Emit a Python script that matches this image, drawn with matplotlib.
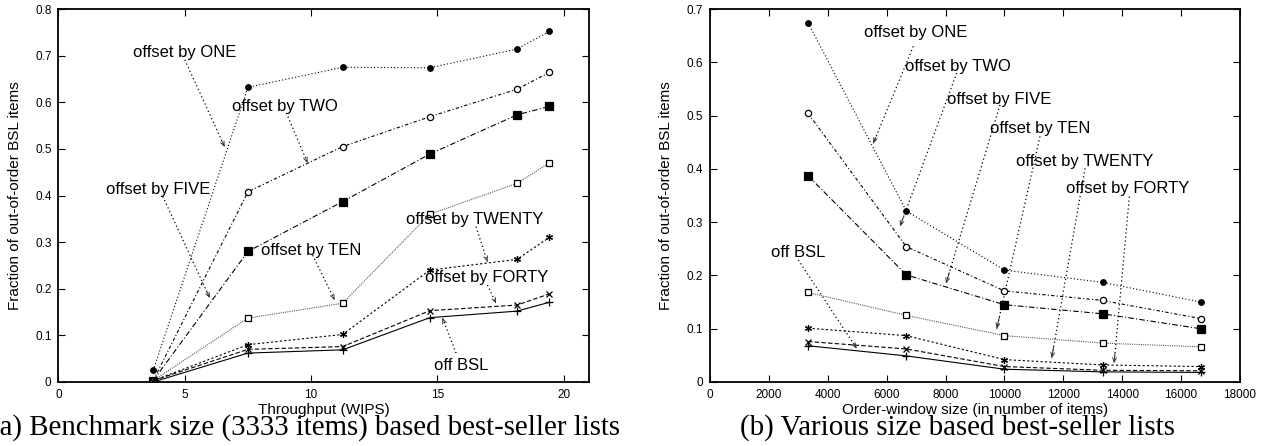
import matplotlib
matplotlib.use('Agg')
import matplotlib.pyplot as plt

plt.rcParams.update({
    'font.family': ['Liberation Sans', 'DejaVu Sans'],
    'font.size': 9,
    'xtick.labelsize': 8.5,
    'ytick.labelsize': 8.5,
    'xtick.direction': 'in',
    'ytick.direction': 'in',
    'xtick.top': True,
    'ytick.right': True,
    'xtick.major.size': 5,
    'ytick.major.size': 5,
    'axes.linewidth': 1.3,
})

series_names = ['offset by ONE', 'offset by TWO', 'offset by FIVE', 'offset by TEN',
                'offset by TWENTY', 'offset by FORTY', 'off BSL']

# (a) benchmark size lists, fraction vs throughput
throughput = [3.75, 7.5, 11.25, 14.7, 18.15, 19.43]
frac_a = {
    'offset by ONE':    [0.025, 0.632, 0.675, 0.674, 0.714, 0.752],
    'offset by TWO':    [0.003, 0.408, 0.505, 0.569, 0.628, 0.664],
    'offset by FIVE':   [0.003, 0.280, 0.387, 0.489, 0.573, 0.591],
    'offset by TEN':    [0.003, 0.137, 0.169, 0.360, 0.426, 0.470],
    'offset by TWENTY': [0.003, 0.080, 0.102, 0.240, 0.263, 0.310],
    'offset by FORTY':  [0.003, 0.070, 0.076, 0.153, 0.165, 0.189],
    'off BSL':          [0.000, 0.062, 0.069, 0.138, 0.152, 0.171],
}

# (b) various size lists, fraction vs order-window size
window = [3333, 6667, 10000, 13333, 16667]
frac_b = {
    'offset by ONE':    [0.674, 0.321, 0.210, 0.187, 0.150],
    'offset by TWO':    [0.504, 0.254, 0.171, 0.153, 0.119],
    'offset by FIVE':   [0.387, 0.201, 0.145, 0.128, 0.100],
    'offset by TEN':    [0.168, 0.125, 0.087, 0.073, 0.066],
    'offset by TWENTY': [0.101, 0.087, 0.042, 0.032, 0.029],
    'offset by FORTY':  [0.076, 0.062, 0.029, 0.022, 0.021],
    'off BSL':          [0.068, 0.049, 0.024, 0.019, 0.018],
}

styles = {
    'offset by ONE':    dict(ls=(0, (1, 2)), marker='o', ms=4, mfc='k', color='k'),
    'offset by TWO':    dict(ls=(0, (3, 2, 1, 2)), marker='o', ms=4.5, mfc='white', color='k'),
    'offset by FIVE':   dict(ls=(0, (5, 2, 1, 2)), marker='s', ms=5.5, mfc='k', color='k'),
    'offset by TEN':    dict(ls=(0, (1, 1)), marker='s', ms=5, mfc='white', color='0.35', mec='k'),
    'offset by TWENTY': dict(ls=(0, (2, 2)), marker=(6, 2, 0), ms=5, color='k'),
    'offset by FORTY':  dict(ls=(0, (4, 2)), marker='x', ms=5, color='k'),
    'off BSL':          dict(ls='-', marker='+', ms=6, color='k'),
}

# label text (left edge, center) and arrow start/end, in data units
labels_a = {
    'offset by ONE':    ((2.94, 0.706), (5.0, 0.691), (6.58, 0.504)),
    'offset by TWO':    ((6.88, 0.591), (9.02, 0.577), (9.86, 0.47)),
    'offset by FIVE':   ((1.9, 0.412), (4.13, 0.398), (5.99, 0.18)),
    'offset by TEN':    ((8.03, 0.282), (10.06, 0.272), (10.93, 0.176)),
    'offset by TWENTY': ((13.76, 0.348), (16.53, 0.333), (16.98, 0.258)),
    'offset by FORTY':  ((14.5, 0.225), (16.98, 0.208), (17.32, 0.169)),
    'off BSL':          ((14.88, 0.036), (15.74, 0.062), (15.2, 0.137)),
}
labels_b = {
    'offset by ONE':    ((5231, 0.655), (6906, 0.63), (5547, 0.448)),
    'offset by TWO':    ((6624, 0.592), (8379, 0.58), (6454, 0.292)),
    'offset by FIVE':   ((8040, 0.531), (9850, 0.52), (8016, 0.185)),
    'offset by TEN':    ((9511, 0.476), (11209, 0.461), (9738, 0.10)),
    'offset by TWENTY': ((10394, 0.414), (12738, 0.401), (11606, 0.045)),
    'offset by FORTY':  ((12092, 0.3625), (14243, 0.348), (13723, 0.035)),
    'off BSL':          ((2062, 0.2436), (3000, 0.229), (4982, 0.063)),
}

fig = plt.figure(figsize=(12.71, 4.46), dpi=100)
ax1 = fig.add_axes([0.046, 0.1435, 0.4174, 0.8363])
ax2 = fig.add_axes([0.5586, 0.1435, 0.417, 0.8363])


def draw(ax, x, data, labels):
    for name in series_names:
        ax.plot(x, data[name], lw=0.8, mew=0.9, zorder=3, **styles[name])
    for name in series_names:
        (tx, ty), start, end = labels[name]
        ax.text(tx, ty, name, fontsize=12, ha='left', va='center', zorder=4)
        # dotted leader line
        ax.plot([start[0], end[0]], [start[1], end[1]], color='k', lw=0.9,
                ls=(0, (1, 2.2)), zorder=2)
        # small head only, from a point just before the end
        near = (end[0] - 0.06 * (end[0] - start[0]), end[1] - 0.06 * (end[1] - start[1]))
        ax.annotate('', xy=end, xytext=near,
                    arrowprops=dict(arrowstyle='->,head_length=0.35,head_width=0.15',
                                    lw=0.7, color='0.2', shrinkA=0, shrinkB=0))
    ax.set_ylabel('Fraction of out-of-order BSL items', fontsize=11)


draw(ax1, throughput, frac_a, labels_a)
ax1.set_xlim(0, 21)
ax1.set_ylim(0, 0.8)
ax1.set_xticks([0, 5, 10, 15, 20])
ax1.set_yticks([0, 0.1, 0.2, 0.3, 0.4, 0.5, 0.6, 0.7, 0.8])
ax1.set_yticklabels(['0', '0.1', '0.2', '0.3', '0.4', '0.5', '0.6', '0.7', '0.8'])
ax1.set_xlabel('Throughput (WIPS)', fontsize=11)
ax1.xaxis.set_label_coords(0.5, -0.055)
ax1.yaxis.set_label_coords(-0.069, 0.5)

draw(ax2, window, frac_b, labels_b)
ax2.set_xlim(0, 18000)
ax2.set_ylim(0, 0.7)
ax2.set_xticks(range(0, 18001, 2000))
ax2.set_yticks([0, 0.1, 0.2, 0.3, 0.4, 0.5, 0.6, 0.7])
ax2.set_yticklabels(['0', '0.1', '0.2', '0.3', '0.4', '0.5', '0.6', '0.7'])
ax2.set_xlabel('Order-window size (in number of items)', fontsize=11)
ax2.xaxis.set_label_coords(0.5, -0.055)
ax2.yaxis.set_label_coords(-0.07, 0.5)

for ax in (ax1, ax2):
    ax.tick_params(which='major', width=0.8, pad=5)

fig.text(0.4878, 0.0247, '(a) Benchmark size (3333 items) based best-seller lists',
         family=['Liberation Serif', 'DejaVu Serif'], fontsize=20.8, ha='right', va='baseline')
fig.text(0.5822, 0.0247, '(b) Various size based best-seller lists',
         family=['Liberation Serif', 'DejaVu Serif'], fontsize=20.9, ha='left', va='baseline')

fig.savefig('out.png', dpi=100)
